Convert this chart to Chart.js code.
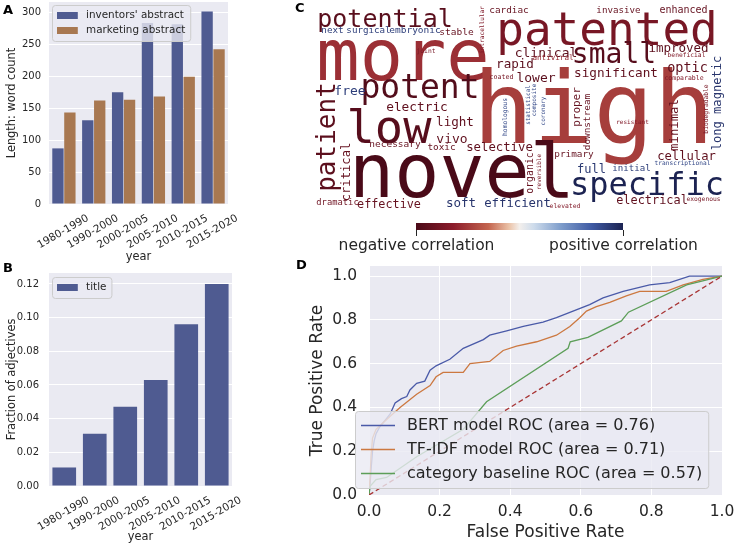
<!DOCTYPE html>
<html>
<head>
<meta charset="utf-8">
<script src="https://cdn.jsdelivr.net/npm/chart.js@4.4.0/dist/chart.umd.min.js"></script>
<style>
  body { margin: 0; background: #fff; width: 736px; height: 547px; position: relative; overflow: hidden; }
  canvas { position: absolute; }
  .panel { position: absolute; font: bold 13px 'DejaVu Sans'; color: #000; line-height: 1; }
</style>
</head>
<body>
<canvas id="chartC" width="486" height="262" style="left:250px;top:0px"></canvas>
<canvas id="chartA" width="250" height="270" style="left:0px;top:0px"></canvas>
<canvas id="chartB" width="250" height="285" style="left:0px;top:262px"></canvas>
<canvas id="chartD" width="446" height="292" style="left:290px;top:255px"></canvas>
<div class="panel" style="left:3px;top:3px">A</div>
<div class="panel" style="left:3px;top:261px">B</div>
<div class="panel" style="left:295px;top:1px">C</div>
<div class="panel" style="left:296px;top:258px">D</div>
<script>
// ---- data ----
const periods = ['1980-1990', '1990-2000', '2000-2005', '2005-2010', '2010-2015', '2015-2020'];
const inventorsWords = [87, 131, 175, 283, 281, 301];
const marketingWords = [143, 162, 163, 168, 199, 242];
const titleAdjFraction = [0.011, 0.031, 0.047, 0.063, 0.096, 0.120];

const bertFpr = [0, 0.003, 0.006, 0.01, 0.015, 0.02, 0.03, 0.04, 0.05, 0.06, 0.074, 0.092, 0.107, 0.116, 0.135, 0.158, 0.173, 0.19, 0.229, 0.267, 0.324, 0.342, 0.39, 0.437, 0.493, 0.531, 0.578, 0.625, 0.663, 0.72, 0.795, 0.852, 0.908, 1];
const bertTpr = [0, 0.05, 0.12, 0.2, 0.25, 0.28, 0.31, 0.33, 0.35, 0.37, 0.42, 0.44, 0.45, 0.48, 0.51, 0.52, 0.57, 0.59, 0.62, 0.67, 0.71, 0.73, 0.75, 0.77, 0.79, 0.81, 0.84, 0.87, 0.90, 0.93, 0.96, 0.97, 1.0, 1.0];
const tfidfFpr = [0, 0.003, 0.006, 0.01, 0.02, 0.04, 0.06, 0.088, 0.135, 0.173, 0.19, 0.21, 0.267, 0.286, 0.342, 0.38, 0.418, 0.475, 0.531, 0.569, 0.597, 0.616, 0.644, 0.682, 0.729, 0.767, 0.842, 0.89, 0.946, 1];
const tfidfTpr = [0, 0.08, 0.18, 0.26, 0.3, 0.33, 0.36, 0.40, 0.46, 0.50, 0.54, 0.56, 0.56, 0.60, 0.61, 0.66, 0.68, 0.70, 0.73, 0.77, 0.81, 0.84, 0.86, 0.88, 0.91, 0.93, 0.93, 0.96, 0.985, 1];
const baseFpr = [0, 0.003, 0.02, 0.05, 0.135, 0.267, 0.333, 0.564, 0.57, 0.62, 0.715, 0.735, 0.9, 1];
const baseTpr = [0, 0.04, 0.07, 0.08, 0.175, 0.30, 0.426, 0.67, 0.70, 0.72, 0.795, 0.835, 0.96, 1];
const chanceLine = [0, 1];
const rocLabels = ['BERT model ROC (area = 0.76)', 'TF-IDF model ROC (area = 0.71)', 'category baseline ROC (area = 0.57)'];

// word cloud: word, weight (font px), correlation with the target
const cloudWords = ['potential','patented','more','high','novel','low','potent','small','specific','clinical','improved','rapid','lower','significant','optic','free','electric','light','vivo','selective','necessary','toxic','primary','cellular','full','initial','effective','dramatic','soft','efficient','elevated','electrical','exogenous','transcriptional','resistant','comparable','beneficial','antiviral','coated','joint','next','surgical','embryonic','stable','cardiac','invasive','enhanced','patient','critical','proper','downstream','minimal','long magnetic','intracellular','homologous','statistical','composite','coronary','organic','reversible','biodegradable'];
const cloudWeight = [25,46,72,100,75,47,33,28,32,13,12.5,12.6,13,12.7,13.5,13,12.8,12.6,13,12.3,9.5,9.4,9.4,12.2,12,9.1,11.8,8.8,12.5,12.3,6.4,11.9,6.3,6.2,6,6.5,6.3,7.6,6.7,6.3,9.3,9.2,9.5,9.5,9.4,9.2,10,26,12.2,11,9.4,12.3,12.1,6.1,6.3,6,6,6,9.9,6,6.3];
const cloudCorr = [-0.92,-0.75,-0.55,-0.48,-1,-0.93,-0.95,-0.93,1,-0.9,-0.9,-0.9,-0.9,-0.88,-0.88,0.85,-0.88,-0.88,-0.88,-0.88,-0.85,-0.85,-0.85,-0.88,0.88,0.85,-0.85,-0.8,0.9,0.9,-0.7,-0.88,-0.75,0.8,-0.7,-0.7,-0.7,-0.6,-0.75,-0.75,0.85,0.85,0.85,-0.85,-0.85,-0.85,-0.85,-0.9,-0.85,-0.85,-0.85,-0.85,0.9,-0.7,0.8,0.8,0.8,0.8,-0.85,-0.75,-0.75];
const colorbarLabels = ['negative correlation', 'positive correlation'];
const colorbarValues = [-1, 1];

// word cloud layout (canvas coords: x centre / baseline y, vertical words: baseline x / centre y)
const cloudX = [135,357,153,343.5,212,139,170,364,397,296,428.5,265,286,366,437.5,100,167,205,202,249.5,145,191.5,324,436.5,341.5,381.5,139,87.5,211,267.5,315,402,453.5,432.5,382.5,434,436.5,303,251.5,176,82.5,118.5,165,206.5,259,368.5,433.5,85,100,330,340,428,470.5,234,257,280,286,295,283,291,458];
const cloudY = [27,45,80,143,197,143,98,63,195,57,52,68,82,77,72,95,111,126,143,151,147,150,157,160,173,171,208,205,207,207,208,204,201,165,124,80,57,60,79,53,33,33,33,35,13,13,13,137,172,107,122,125,103,30,117,105,100,111,173,172,109];
const cloudVertical = cloudWords.map((w, i) => i >= 47);

// ---- styles ----
const TEXT = '#262626';
const AXBG = '#eaeaf2';
const BAR_BLUE = '#4f5b91';
const BAR_ORANGE = '#a87851';
const cmapStops = [[0,'#4a0a18'],[0.18,'#8c1c2b'],[0.35,'#c4654f'],[0.45,'#ebc3a8'],[0.5,'#f3efec'],[0.57,'#cddbeb'],[0.7,'#7e9dcb'],[0.85,'#3f5aa3'],[1,'#1c2352']];

Chart.defaults.font.family = "'DejaVu Sans'";
Chart.defaults.color = TEXT;

function hex(c) { return [1, 3, 5].map(k => parseInt(c.substr(k, 2), 16)); }
function cmap(t) {
  for (let i = 1; i < cmapStops.length; i++) {
    if (t <= cmapStops[i][0]) {
      const [t0, c0] = cmapStops[i - 1], [t1, c1] = cmapStops[i];
      const f = (t - t0) / (t1 - t0), a = hex(c0), b = hex(c1);
      return 'rgb(' + a.map((v, k) => Math.round(v + (b[k] - v) * f)).join(',') + ')';
    }
  }
  return cmapStops[cmapStops.length - 1][1];
}

// grey axes background (seaborn darkgrid)
const axesBg = {
  id: 'axesBg',
  beforeDraw(chart, args, o) {
    if (!o.color) return;
    const {ctx, chartArea: a} = chart;
    ctx.save();
    ctx.fillStyle = o.color;
    ctx.fillRect(a.left, a.top, a.right - a.left, a.bottom - a.top);
    ctx.restore();
  }
};

// matplotlib-like legend box placed anywhere on the canvas
const boxLegend = {
  id: 'boxLegend',
  afterDraw(chart, args, o) {
    if (o.x === undefined) return;
    const ctx = chart.ctx;
    const items = chart.data.datasets.filter(d => !d.noLegend);
    ctx.save();
    ctx.font = o.fontSize + "px 'DejaVu Sans'";
    const textX = o.x + o.pad + o.handle + o.gap;
    let w = 0;
    items.forEach(d => { w = Math.max(w, ctx.measureText(d.label).width); });
    const bw = textX - o.x + w + o.pad, bh = items.length * o.row + 2 * o.padV;
    ctx.beginPath();
    ctx.roundRect(o.x + 0.5, o.y + 0.5, bw, bh, 3);
    ctx.fillStyle = 'rgba(234,234,242,0.8)';
    ctx.fill();
    ctx.strokeStyle = '#cccccc';
    ctx.lineWidth = 1;
    ctx.stroke();
    items.forEach((d, i) => {
      const cy = o.y + o.padV + o.row * (i + 0.5);
      if (o.type === 'line') {
        ctx.strokeStyle = d.borderColor;
        ctx.lineWidth = d.borderWidth;
        ctx.beginPath();
        ctx.moveTo(o.x + o.pad, cy);
        ctx.lineTo(o.x + o.pad + o.handle, cy);
        ctx.stroke();
      } else {
        ctx.fillStyle = d.backgroundColor;
        ctx.fillRect(o.x + o.pad, cy - o.swatch / 2, o.handle, o.swatch);
      }
      ctx.fillStyle = TEXT;
      ctx.textBaseline = 'middle';
      ctx.fillText(d.label, textX, cy);
    });
    ctx.restore();
  }
};

// word cloud + colour bar
const wordCloud = {
  id: 'wordCloud',
  afterDatasetsDraw(chart) {
    const {ctx, scales: {x, y}} = chart;
    ctx.save();
    ctx.textAlign = 'center';
    ctx.textBaseline = 'alphabetic';
    cloudWords.forEach((w, i) => {
      ctx.save();
      ctx.translate(x.getPixelForValue(cloudX[i]), y.getPixelForValue(cloudY[i]));
      if (cloudVertical[i]) ctx.rotate(-Math.PI / 2);
      ctx.font = cloudWeight[i] + "px 'DejaVu Sans Mono'";
      ctx.fillStyle = cmap((cloudCorr[i] + 1) / 2);
      ctx.fillText(w, 0, 0);
      ctx.restore();
    });
    // colour bar
    const x0 = x.getPixelForValue(166), x1 = x.getPixelForValue(373);
    const y0 = y.getPixelForValue(223), y1 = y.getPixelForValue(230);
    const g = ctx.createLinearGradient(x0, 0, x1, 0);
    cmapStops.forEach(s => g.addColorStop(s[0], s[1]));
    ctx.fillStyle = g;
    ctx.fillRect(x0, y0, x1 - x0, y1 - y0);
    ctx.strokeStyle = TEXT;
    ctx.lineWidth = 1;
    ctx.font = "15.5px 'DejaVu Sans'";
    ctx.fillStyle = TEXT;
    ctx.textBaseline = 'middle';
    colorbarValues.forEach((v, i) => {
      const px = Math.round(x0 + (v + 1) / 2 * (x1 - x0)) + 0.5;
      ctx.beginPath();
      ctx.moveTo(px, y1);
      ctx.lineTo(px, y1 + 6);
      ctx.stroke();
      ctx.fillText(colorbarLabels[i], px, y1 + 16);
    });
    ctx.restore();
  }
};

Chart.register(axesBg, boxLegend);

const noTips = {legend: {display: false}, tooltip: {enabled: false}};

function fixWidth(w) { return s => { s.width = w; s.paddingTop = 0; s.paddingBottom = 0; }; }
function fixHeight(h) { return s => { s.height = h; s.paddingLeft = 0; s.paddingRight = 0; }; }

// ---- A ----
new Chart(document.getElementById('chartA'), {
  type: 'bar',
  data: {
    labels: periods,
    datasets: [
      {label: "inventors' abstract", data: inventorsWords, backgroundColor: BAR_BLUE, barPercentage: 0.95, categoryPercentage: 0.8},
      {label: 'marketing abstract', data: marketingWords, backgroundColor: BAR_ORANGE, barPercentage: 0.95, categoryPercentage: 0.8}
    ]
  },
  options: {
    responsive: false, animation: false,
    layout: {padding: {top: 2, right: 22, left: 0, bottom: 0}},
    plugins: {...noTips, axesBg: {color: AXBG},
      boxLegend: {x: 52, y: 5, fontSize: 10.4, pad: 5, handle: 20.8, gap: 8.3, row: 15, padV: 3, swatch: 7}},
    scales: {
      x: {
        grid: {display: false}, border: {display: false},
        ticks: {minRotation: 30, maxRotation: 30, autoSkip: false, labelOffset: 24, padding: 0, font: {size: 10.5}},
        title: {display: true, text: 'year', font: {size: 11.4}, padding: {top: 0, bottom: 6}},
        afterFit: fixHeight(66)
      },
      y: {
        min: 0, max: 316,
        ticks: {stepSize: 50, includeBounds: false, padding: 8, font: {size: 10}},
        grid: {color: '#ffffff', drawTicks: false}, border: {display: false},
        title: {display: true, text: 'Length: word count', font: {size: 11.4}, padding: {top: 5}},
        afterFit: fixWidth(49)
      }
    }
  }
});

// ---- B ----
new Chart(document.getElementById('chartB'), {
  type: 'bar',
  data: {
    labels: periods,
    datasets: [{label: 'title', data: titleAdjFraction, backgroundColor: BAR_BLUE, barPercentage: 0.97, categoryPercentage: 0.8}]
  },
  options: {
    responsive: false, animation: false,
    layout: {padding: {top: 11, right: 18, left: 0, bottom: 0}},
    plugins: {...noTips, axesBg: {color: AXBG},
      boxLegend: {x: 52, y: 15, fontSize: 10.4, pad: 5, handle: 20.8, gap: 8.3, row: 15, padV: 3, swatch: 7}},
    scales: {
      x: {
        grid: {display: false}, border: {display: false},
        ticks: {minRotation: 30, maxRotation: 30, autoSkip: false, labelOffset: 24, padding: 0, font: {size: 10.5}},
        title: {display: true, text: 'year', font: {size: 11.4}, padding: {top: 0, bottom: 3}},
        afterFit: fixHeight(61)
      },
      y: {
        min: 0, max: 0.1265,
        ticks: {stepSize: 0.02, includeBounds: false, padding: 10, font: {size: 10}, callback: v => v.toFixed(2)},
        grid: {color: '#ffffff', drawTicks: false}, border: {display: false},
        title: {display: true, text: 'Fraction of adjectives', font: {size: 11.4}, padding: {top: 5}},
        afterFit: fixWidth(49)
      }
    }
  }
});

// ---- C ----
new Chart(document.getElementById('chartC'), {
  type: 'scatter',
  data: {datasets: [{data: cloudX.map((v, i) => ({x: v, y: cloudY[i]})), pointRadius: 0}]},
  options: {
    responsive: false, animation: false,
    layout: {padding: 0},
    plugins: noTips,
    scales: {
      x: {display: false, min: 0, max: 486},
      y: {display: false, min: 0, max: 262, reverse: true}
    }
  },
  plugins: [wordCloud]
});

// ---- D ----
const pts = (xs, ys) => xs.map((v, i) => ({x: v, y: ys[i]}));
new Chart(document.getElementById('chartD'), {
  type: 'scatter',
  data: {
    datasets: [
      {label: rocLabels[0], data: pts(bertFpr, bertTpr), borderColor: '#4a5aa8', borderWidth: 1.3, showLine: true, pointRadius: 0, order: 3},
      {label: rocLabels[1], data: pts(tfidfFpr, tfidfTpr), borderColor: '#cc7840', borderWidth: 1.3, showLine: true, pointRadius: 0, order: 2},
      {label: rocLabels[2], data: pts(baseFpr, baseTpr), borderColor: '#5c9e58', borderWidth: 1.3, showLine: true, pointRadius: 0, order: 1},
      {label: 'chance', data: pts(chanceLine, chanceLine), borderColor: '#a83434', borderWidth: 1.3, borderDash: [5, 3], showLine: true, pointRadius: 0, order: 0, noLegend: true}
    ]
  },
  options: {
    responsive: false, animation: false,
    layout: {padding: {top: 11, right: 14, left: 0, bottom: 0}},
    plugins: {...noTips, axesBg: {color: AXBG},
      boxLegend: {x: 65, y: 156, fontSize: 16, pad: 6, handle: 34, gap: 12, row: 24, padV: 2.5, type: 'line'}},
    scales: {
      x: {
        type: 'linear', min: 0, max: 1,
        ticks: {stepSize: 0.2, padding: 8, font: {size: 15.5}, callback: v => v.toFixed(1)},
        grid: {color: '#ffffff', drawTicks: false}, border: {display: false},
        title: {display: true, text: 'False Positive Rate', font: {size: 17}, padding: {top: 0, bottom: 4}},
        afterFit: fixHeight(52)
      },
      y: {
        min: 0, max: 1.046,
        ticks: {stepSize: 0.2, includeBounds: false, padding: 12, font: {size: 15.5}, callback: v => v.toFixed(1)},
        grid: {color: '#ffffff', drawTicks: false}, border: {display: false},
        title: {display: true, text: 'True Positive Rate', font: {size: 17}, padding: {top: 17}},
        afterFit: fixWidth(79)
      }
    }
  }
});
</script>
</body>
</html>
